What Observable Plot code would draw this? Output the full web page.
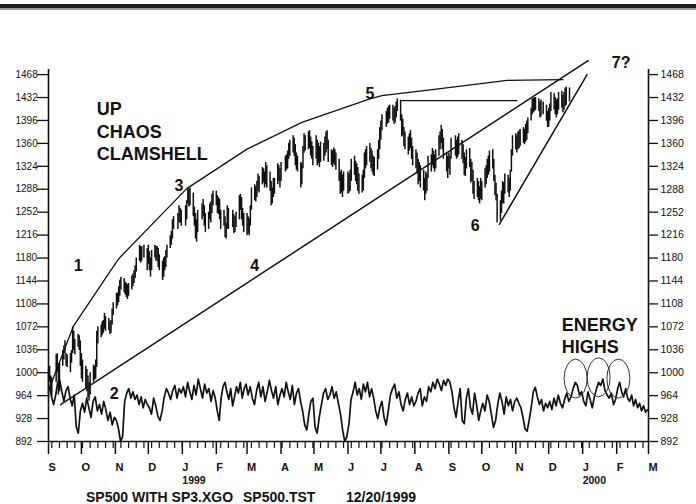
<!DOCTYPE html>
<html><head><meta charset="utf-8">
<script src="https://cdn.jsdelivr.net/npm/d3@7"></script>
<script src="https://cdn.jsdelivr.net/npm/@observablehq/plot@0.6"></script>
<style>
html,body{margin:0;padding:0;background:#fff;}
#wrap{position:relative;width:696px;height:504px;overflow:hidden;}
.bar1{position:absolute;left:0;top:4px;width:696px;height:4px;background:#1e1e1e;}
.bar2{position:absolute;left:0;top:8px;width:696px;height:2px;background:#9a9a9a;}
#wrap svg{position:absolute;left:0;top:0;}
</style></head><body><div id="wrap"><div class="bar1"></div><div class="bar2"></div></div>
<script>
// ---- price bars: [low, high] per trading day, by month ----
const sep98=[[960,1005],[985,1010],[970,995],[962,992],[985,1028],[1000,1030],[965,1012],[970,1015],[1010,1035],[1020,1042],[1030,1050],[1010,1030],[1008,1028],[1000,1030],[1015,1035],[1030,1072],[1035,1065],[1028,1052],[1040,1060],[1035,1058],[1010,1050]];
const oct98=[[990,1030],[985,1020],[975,1010],[970,1005],[960,995],[955,985],[965,1000],[985,1012],[988,1010],[990,1020],[1008,1065],[1045,1072],[1055,1075],[1058,1080],[1062,1082],[1068,1093],[1065,1088],[1066,1085],[1060,1080],[1062,1082],[1075,1100],[1090,1110]];
const nov98=[[1100,1125],[1105,1125],[1110,1135],[1120,1145],[1130,1150],[1125,1148],[1122,1142],[1118,1140],[1115,1138],[1120,1140],[1130,1152],[1135,1155],[1140,1160],[1148,1168],[1158,1180],[1175,1200],[1172,1198],[1175,1198],[1180,1200],[1160,1195]];
const dec98=[[1170,1200],[1160,1190],[1150,1180],[1160,1192],[1180,1200],[1175,1198],[1175,1198],[1165,1195],[1160,1185],[1145,1175],[1150,1180],[1160,1182],[1165,1192],[1180,1200],[1195,1215],[1200,1222],[1210,1240],[1225,1245],[1225,1250],[1235,1262],[1235,1258],[1230,1255]];
const jan99=[[1230,1262],[1240,1270],[1265,1290],[1260,1288],[1262,1290],[1245,1282],[1230,1260],[1210,1250],[1205,1240],[1220,1255],[1240,1265],[1245,1272],[1230,1262],[1220,1250],[1225,1252],[1240,1265],[1235,1268],[1250,1280],[1262,1285]];
const feb99=[[1262,1285],[1250,1278],[1248,1275],[1240,1272],[1225,1255],[1230,1255],[1212,1245],[1210,1235],[1225,1262],[1225,1258],[1228,1255],[1218,1248],[1220,1245],[1228,1252],[1240,1278],[1255,1280],[1240,1275],[1230,1258],[1220,1250]];
const mar99=[[1215,1250],[1218,1245],[1215,1242],[1230,1262],[1255,1290],[1270,1295],[1268,1292],[1275,1300],[1285,1312],[1282,1308],[1295,1322],[1298,1320],[1290,1315],[1295,1330],[1290,1325],[1285,1315],[1262,1300],[1265,1290],[1275,1305],[1280,1305],[1295,1328],[1300,1325],[1290,1320]];
const apr99=[[1300,1330],[1315,1340],[1318,1342],[1320,1348],[1335,1360],[1340,1365],[1345,1372],[1340,1368],[1325,1358],[1318,1345],[1315,1340],[1290,1330],[1295,1328],[1320,1355],[1345,1375],[1348,1372],[1350,1378],[1352,1380],[1340,1370],[1335,1362],[1325,1355]];
const may99=[[1335,1372],[1325,1365],[1328,1360],[1322,1355],[1330,1362],[1332,1360],[1340,1370],[1345,1378],[1350,1380],[1330,1365],[1325,1350],[1322,1348],[1328,1353],[1325,1350],[1318,1345],[1300,1335],[1280,1315],[1282,1318],[1275,1310],[1285,1315]];
const jun99=[[1280,1315],[1282,1312],[1285,1318],[1300,1335],[1310,1340],[1300,1332],[1295,1328],[1285,1322],[1280,1312],[1282,1310],[1285,1318],[1305,1345],[1320,1350],[1325,1355],[1330,1360],[1320,1352],[1315,1348],[1310,1340],[1308,1338],[1318,1350],[1335,1365],[1350,1385]];
const jul99=[[1365,1395],[1380,1405],[1385,1410],[1390,1415],[1392,1418],[1398,1420],[1395,1420],[1390,1415],[1392,1418],[1400,1425],[1410,1430],[1395,1428],[1370,1405],[1372,1398],[1355,1385],[1350,1378],[1342,1370],[1348,1375],[1352,1380],[1335,1368],[1325,1355]];
const aug99=[[1320,1350],[1312,1345],[1295,1335],[1300,1330],[1290,1325],[1285,1318],[1270,1305],[1280,1315],[1285,1312],[1305,1340],[1315,1342],[1325,1352],[1320,1348],[1315,1342],[1320,1350],[1340,1372],[1350,1378],[1360,1388],[1350,1382],[1335,1368],[1315,1345],[1305,1340]];
const sep99=[[1320,1345],[1310,1340],[1335,1368],[1340,1372],[1335,1365],[1338,1370],[1342,1375],[1335,1365],[1328,1358],[1310,1345],[1308,1338],[1320,1350],[1322,1352],[1298,1335],[1300,1330],[1280,1318],[1272,1300],[1275,1305],[1270,1300],[1265,1292],[1272,1305]];
const oct99=[[1270,1300],[1290,1320],[1295,1325],[1305,1335],[1310,1340],[1315,1348],[1320,1350],[1300,1335],[1278,1310],[1270,1298],[1235,1280],[1238,1270],[1250,1285],[1265,1300],[1265,1298],[1280,1312],[1282,1310],[1275,1305],[1285,1318],[1315,1350],[1340,1372]];
const nov99=[[1350,1375],[1345,1372],[1350,1378],[1352,1380],[1355,1382],[1360,1385],[1358,1382],[1362,1390],[1365,1395],[1375,1400],[1395,1415],[1405,1430],[1408,1430],[1410,1432],[1412,1432],[1410,1430],[1400,1425],[1402,1428],[1405,1425],[1395,1420],[1385,1410]];
const dec99=[[1385,1415],[1395,1422],[1410,1440],[1412,1438],[1405,1432],[1400,1428],[1405,1430],[1412,1440],[1415,1442],[1408,1435],[1412,1440],[1418,1447],[1420,1448],[1425,1447]];

// ---- energy line: 16 readings per month ----
const eSep98=[978,962,950,965,985,988,970,955,972,978,960,948,965,915,905,940];
const eOct98=[952,938,960,945,930,955,962,940,950,935,955,942,925,938,918,930];
const eNov98=[925,912,892,900,955,968,975,960,970,958,965,950,962,945,958,950];
const eDec98=[945,935,960,948,932,925,940,962,975,968,958,972,980,960,975,968];
const eJan99=[978,962,985,970,958,980,965,990,975,960,982,968,975,955,972,960];
const eFeb99=[940,925,960,978,985,970,958,975,948,962,978,968,985,960,975,982];
const eMar99=[965,978,960,950,972,985,962,978,955,970,988,972,960,978,950,965];
const eApr99=[975,962,985,970,958,980,950,968,975,955,940,918,910,935,955,960];
const eMay99=[915,905,930,950,968,975,958,965,978,960,970,952,935,910,892,900];
const eJun99=[920,958,970,985,965,975,958,982,970,985,962,975,960,940,928,945];
const eJul99=[955,930,918,940,965,975,982,960,970,950,940,958,968,950,962,948];
const eAug99=[955,968,975,948,962,955,978,970,985,975,990,982,972,988,980,990];
const eSep99=[985,970,945,930,955,975,925,920,960,975,945,935,968,950,925,940];
const eOct99=[952,940,965,955,935,914,925,950,968,955,935,962,948,958,940,955];
const eNov99=[960,952,945,930,912,908,925,945,970,977,962,950,958,940,952,945];
const eDec99=[955,942,960,948,965,952,945,958,968,955,962,975,985,980,965,970];
const eJan00=[955,948,970,958,945,962,975,985,980,990,972,965,960,968,950,958];
const eFeb00=[975,985,970,962,975,960,955,965,948,958,945,952,940,948,938,942];

// ---- trendlines (date, price) ----
const clamTop=[["1998-09-01",972],["1998-09-24",1074],["1998-11-04",1179],["1999-01-05",1289],["1999-03-01",1351],["1999-04-20",1393],["1999-06-21",1430],["1999-07-02",1435],["1999-08-15",1444],["1999-10-24",1459],["1999-12-14",1460]];
const trend4=[["1998-09-12",950],["2000-01-06",1490]];
const trend6=[["1999-10-17",1233],["2000-01-05",1468]];
const flat5=[["1999-07-19",1427],["1999-11-02",1427]];

// ---- annotations ----
const bigWords=[["1998-10-15",1414,"UP"],["1998-10-15",1377,"CHAOS"],["1998-10-15",1343,"CLAMSHELL"],["1999-12-13",1074,"ENERGY"],["1999-12-13",1040,"HIGHS"]];
const waveLabels=[["1998-09-28",1168,"1"],["1998-10-31",967,"2"],["1998-12-29",1294,"3"],["1999-03-08",1168,"4"],["1999-06-21",1438,"5"],["1999-09-25",1231,"6"],["2000-02-05",1487,"7?"]];
const energyHighs=[["1999-12-26",990],["2000-01-16",992],["2000-02-03",990]];

// ---- axes ----
const yTicks=[892,928,964,1000,1036,1072,1108,1144,1180,1216,1252,1288,1324,1360,1396,1432,1468];
const monthLetters=["J","F","M","A","M","J","J","A","S","O","N","D"];
const yearLabels=[["1999-01-01","1999"],["2000-01-01","2000"]];
const caption=["SP500 WITH SP3.XGO","SP500.TST","12/20/1999"];

const holidays=["1998-09-07","1998-11-26","1998-12-25","1999-01-01","1999-01-18","1999-02-15","1999-04-02","1999-05-31","1999-07-05","1999-09-06","1999-11-25"];
const priceMonths=[[1998,8,sep98],[1998,9,oct98],[1998,10,nov98],[1998,11,dec98],[1999,0,jan99],[1999,1,feb99],[1999,2,mar99],[1999,3,apr99],[1999,4,may99],[1999,5,jun99],[1999,6,jul99],[1999,7,aug99],[1999,8,sep99],[1999,9,oct99],[1999,10,nov99],[1999,11,dec99]];
const energyMonths=[eSep98,eOct98,eNov98,eDec98,eJan99,eFeb99,eMar99,eApr99,eMay99,eJun99,eJul99,eAug99,eSep99,eOct99,eNov99,eDec99,eJan00,eFeb00];

function tradingDays(y,m){
  const out=[];
  for(let d=new Date(Date.UTC(y,m,1));d.getUTCMonth()===m;d=new Date(d.getTime()+864e5)){
    const wd=d.getUTCDay(), iso=d.toISOString().slice(0,10);
    if(wd!==0&&wd!==6&&!holidays.includes(iso)) out.push(new Date(d));
  }
  return out;
}
const bars=[];
for(const [y,m,arr] of priceMonths){
  const days=tradingDays(y,m);
  arr.forEach((p,i)=>{ if(days[i]) bars.push({date:days[i],lo:p[0],hi:p[1]}); });
}
const energy=[];
energyMonths.forEach((arr,mi)=>{
  const s=Date.UTC(1998,8+mi,1), e=Date.UTC(1998,9+mi,1);
  arr.forEach((v,k)=>energy.push({date:new Date(s+(e-s)*(k+0.5)/arr.length),v}));
});
const toPts=a=>a.map(([d,p])=>({date:new Date(d),p}));
const x0=new Date("1998-09-01"), x1=new Date("2000-03-01");
const months=d3.utcMonth.range(x0,new Date("2000-03-02"));
const weeks=d3.utcFriday.range(x0,x1);
const font="'Liberation Sans', Arial, Helvetica, sans-serif";
const ink="#111";

const plot=Plot.plot({
  width:696,height:504,
  marginLeft:48,marginRight:48,marginTop:69,marginBottom:63,
  x:{type:"utc",domain:[x0,x1],axis:null},
  y:{domain:[892,1476],axis:null},
  style:{fontFamily:font,background:"transparent",color:ink,overflow:"visible"},
  marks:[
    Plot.ruleX([x0,x1],{y1:892,y2:1476,stroke:ink,strokeWidth:1.6}),
    Plot.ruleY([892],{x1:x0,x2:x1,stroke:ink,strokeWidth:1.6}),
    Plot.axisY(yTicks,{anchor:"left",tickSize:11,tickFormat:()=>"",stroke:ink,strokeWidth:1.3,label:null}),
    Plot.axisY(yTicks,{anchor:"right",tickSize:9,tickFormat:()=>"",stroke:ink,strokeWidth:1.3,label:null}),
    Plot.text(yTicks,{y:d=>d,text:d=>String(d),frameAnchor:"left",dx:-33,textAnchor:"start",fontSize:10,fill:ink}),
    Plot.text(yTicks,{y:d=>d,text:d=>String(d),frameAnchor:"right",dx:12,textAnchor:"start",fontSize:10.5,fill:ink}),
    Plot.axisX(weeks,{anchor:"bottom",tickSize:7,tickFormat:()=>"",stroke:ink,strokeWidth:1.2,label:null}),
    Plot.axisX(months,{anchor:"bottom",tickSize:13,tickFormat:()=>"",stroke:ink,strokeWidth:1.5,label:null}),
    Plot.text(months,{x:d=>d,y:892,dy:25.5,text:d=>monthLetters[d.getUTCMonth()],textAnchor:"start",fontSize:11,fontWeight:"bold",fill:ink}),
    Plot.text(yearLabels,{x:d=>new Date(d[0]),y:892,dy:39.5,text:d=>d[1],textAnchor:"start",fontSize:10.5,fontWeight:"bold",fill:ink}),
    // price bars
    Plot.ruleX(bars,{x:"date",y1:"lo",y2:"hi",stroke:ink,strokeWidth:1.5}),
    // energy
    Plot.line(energy,{x:"date",y:"v",stroke:ink,strokeWidth:1.7}),
    // trendlines
    Plot.line(toPts(clamTop),{x:"date",y:"p",stroke:ink,strokeWidth:1.3}),
    Plot.line(toPts(trend4),{x:"date",y:"p",stroke:ink,strokeWidth:1.5}),
    Plot.line(toPts(trend6),{x:"date",y:"p",stroke:ink,strokeWidth:1.5}),
    Plot.line(toPts(flat5),{x:"date",y:"p",stroke:ink,strokeWidth:1.2}),
    // annotations
    Plot.text(bigWords,{x:d=>new Date(d[0]),y:d=>d[1],text:d=>d[2],textAnchor:"start",fontSize:18,fontWeight:"bold",fill:ink}),
    Plot.text(waveLabels,{x:d=>new Date(d[0]),y:d=>d[1],text:d=>d[2],textAnchor:"middle",fontSize:16,fontWeight:"bold",fill:ink})
  ]
});
document.getElementById("wrap").appendChild(plot);
const sx=plot.scale("x"), sy=plot.scale("y");
const svg=d3.select(plot);
for(const [d,p] of energyHighs){
  svg.append("ellipse").attr("cx",sx.apply(new Date(d))).attr("cy",sy.apply(p)).attr("rx",11.5).attr("ry",19.5)
    .attr("fill","none").attr("stroke","#333").attr("stroke-width",1);
}
const capX=[86,243,346];
caption.forEach((t,i)=>svg.append("text").attr("x",capX[i]).attr("y",501.5).attr("text-anchor","start")
  .attr("font-family",font).attr("font-size",14).attr("font-weight","bold").attr("fill",ink).text(t));
</script></body></html>
